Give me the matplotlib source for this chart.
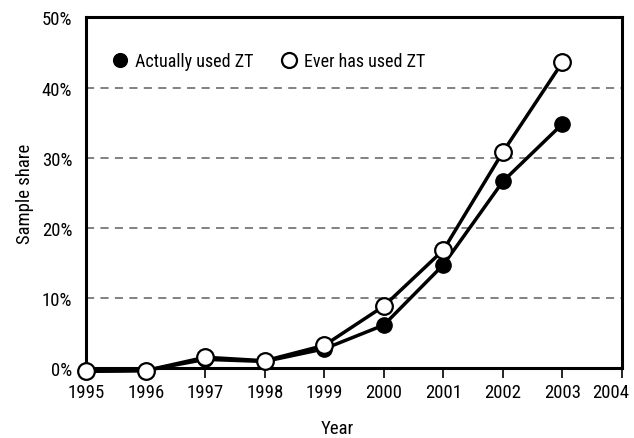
import matplotlib
matplotlib.use("Agg")
import matplotlib.pyplot as plt
import matplotlib.transforms as mtransforms
from matplotlib.ticker import FuncFormatter
from matplotlib import font_manager

names = {f.name for f in font_manager.fontManager.ttflist}
cands = [n for n in ['Roboto Condensed', 'Open Sans Condensed', 'Liberation Sans Narrow',
                     'DejaVu Sans'] if n in names]
plt.rcParams['font.family'] = cands
plt.rcParams['font.stretch'] = 'condensed'

# data (percent of sample)
years = [1995, 1996, 1997, 1998, 1999, 2000, 2001, 2002, 2003]
actually_used = [-0.5, -0.4, 1.2, 0.9, 2.7, 6.1, 14.7, 26.6, 34.8]
ever_used = [-0.5, -0.4, 1.5, 1.0, 3.2, 8.8, 16.8, 30.8, 43.6]
xticks = list(range(1995, 2005))
yticks = [0, 10, 20, 30, 40, 50]

fig = plt.figure(figsize=(6.34, 4.39), dpi=100)
ax = fig.add_axes([0.136, 0.160, 0.845, 0.798])

ax.plot(years, actually_used, color="black", linewidth=2.5, marker="o",
        markersize=11, markerfacecolor="black", markeredgecolor="black",
        label="Actually used ZT", clip_on=False, zorder=3)
ax.plot(years, ever_used, color="black", linewidth=2.5, marker="o",
        markersize=12, markerfacecolor="white", markeredgecolor="black",
        markeredgewidth=1.6, label="Ever has used ZT", clip_on=False, zorder=4)

for y in [10, 20, 30, 40]:
    ax.axhline(y, color="#777777", linewidth=1.3, linestyle=(0, (4.5, 3.5)), zorder=1)

ax.set_xlim(1995, 2004)
ax.set_ylim(0, 50)
ax.set_xticks(xticks)
ax.set_yticks(yticks)
ax.yaxis.set_major_formatter(FuncFormatter(lambda v, p: f"{v:.0f}%"))
ax.tick_params(axis="x", direction="out", length=7, width=1.2, pad=4, labelsize=13.5)
ax.tick_params(axis="y", length=0, pad=10, labelsize=13.5)
for s in ax.spines.values():
    s.set_linewidth(2.2)

# last year label sits a bit left so it stays inside the figure
last = ax.get_xticklabels()[-1]
last.set_transform(last.get_transform() +
                   mtransforms.ScaledTranslation(-8 / 72, 0, fig.dpi_scale_trans))

ax.set_xlabel("Year", fontsize=13.5)
ax.xaxis.set_label_coords(0.468, -0.145)
ax.set_ylabel("Sample share", fontsize=13.5, labelpad=6)

ax.legend(loc="center left", bbox_to_anchor=(0.02, 0.876), ncol=2, frameon=False,
          fontsize=13, handlelength=0.8, handletextpad=0.4, columnspacing=1.6,
          markerscale=0.9)
# legend handles: markers only
leg = ax.get_legend()
for h in leg.legend_handles:
    h.set_linestyle("none")

fig.savefig("out.png", dpi=100)
